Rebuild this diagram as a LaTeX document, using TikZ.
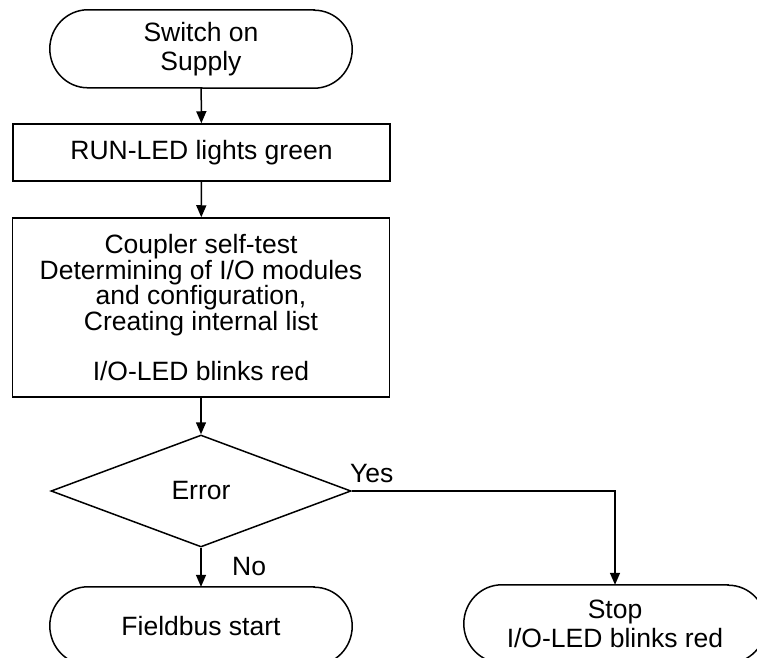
\documentclass[tikz,border=0pt]{standalone}
\usepackage{fontspec}
\setmainfont{Liberation Sans}
\usetikzlibrary{arrows.meta,calc,shapes.geometric}
\newcommand\termshape[1]{%
  \draw[line] ($(#1.north east)+(-38,0)$) -- ($(#1.north west)+(38,0)$)
    arc[start angle=90,end angle=270,x radius=38,y radius=39]
    -- ($(#1.south east)+(-38,0)$)
    arc[start angle=-90,end angle=90,x radius=38,y radius=39] -- cycle;}
\begin{document}
\begin{tikzpicture}[x=1pt,y=1pt,
  line/.style={line width=1.5pt,black},
  txt/.style={font=\fontsize{26.5}{29}\selectfont,align=center},
  term/.style={txt,minimum width=302pt,minimum height=78pt,inner sep=0pt},
  procbox/.style={txt,line,draw,minimum width=377pt,inner sep=0pt},
  decision/.style={txt,line,draw,diamond,minimum width=300pt,minimum height=112pt,inner sep=0pt},
  flow/.style={line,-{Triangle[length=12pt,width=10pt]}},
  lbl/.style={font=\fontsize{26.5}{29}\selectfont,inner sep=0pt,anchor=base west}]
\useasboundingbox (0,0) rectangle (757,657);
\clip (0,0) rectangle (757,657);
\node[term] (start) at (201,608) {Switch on\\Supply};
\termshape{start}
\node[procbox,minimum height=57pt] (run) at (201.5,504.5) {RUN-LED lights green};
\node[procbox,minimum height=179pt,font=\fontsize{26.5}{24.3}\selectfont] (test) at (201,349.5)
  {Coupler self-test\\Determining of I/O modules\\and configuration,\\Creating internal list\\[24.3pt]I/O-LED blinks red};
\node[decision] (err) at (201,166) {Error};
\node[term] (fb) at (201,31) {Fieldbus start};
\termshape{fb}
\node[term] (stop) at (615,33) {Stop\\I/O-LED blinks red};
\termshape{stop}
\draw[flow] (start) -- (run);
\draw[flow] (run) -- (test);
\draw[flow] (test) -- (err);
\draw[flow] (err) -- (fb);
\draw[flow] (err.east) -| (stop.north);
\node[lbl] (yes) at (350,175) {Yes};
\node[lbl] (no) at (232,82) {No};
\end{tikzpicture}
\end{document}
